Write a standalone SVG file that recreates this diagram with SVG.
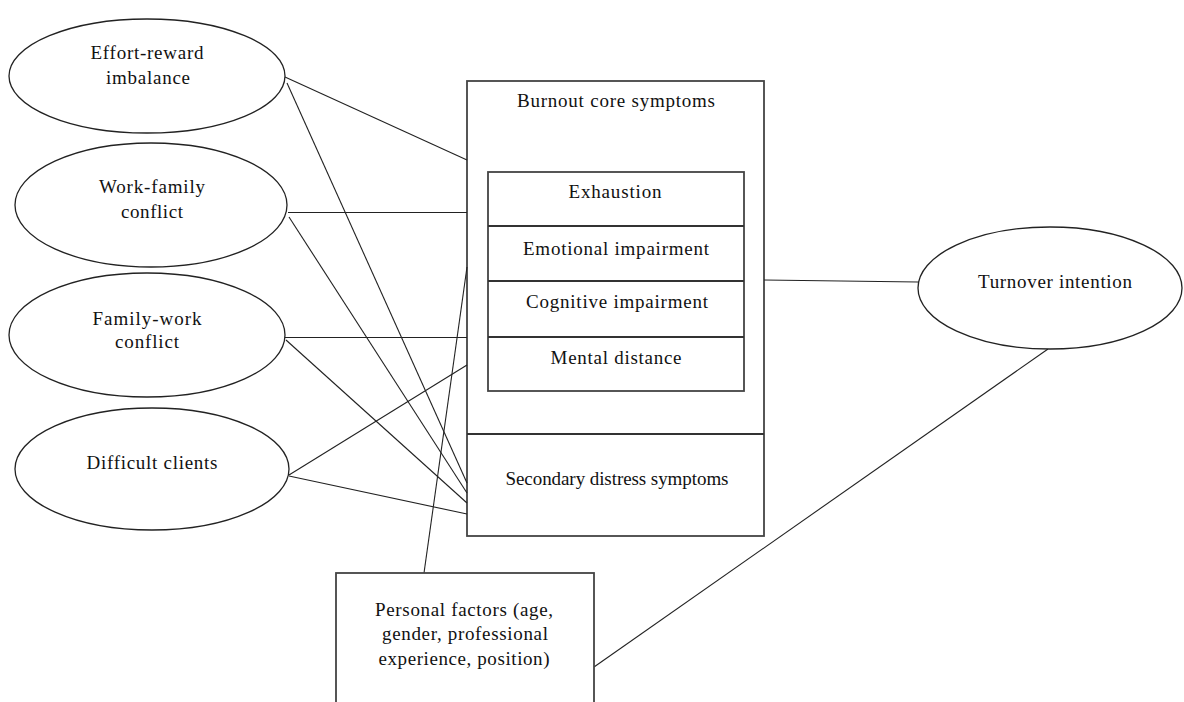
<svg xmlns="http://www.w3.org/2000/svg" width="1184" height="702" viewBox="0 0 1184 702">
<style>
.bg{fill:#ffffff}
.el{fill:#ffffff;stroke:#222;stroke-width:1.3}
.bx{fill:#ffffff;stroke:#444;stroke-width:1.8}
.dv{stroke:#333;stroke-width:1.8;fill:none}
.cn line{stroke:#222;stroke-width:1.1}
text{font-family:"Liberation Serif","Times New Roman",serif;font-size:19px;fill:#111;text-anchor:middle}
</style>
<rect class="bg" x="0" y="0" width="1184" height="702"/>
<g id="burnout">
<rect class="bx" x="467" y="81" width="297" height="455"/>
<line class="dv" x1="467" y1="434" x2="764" y2="434"/>
<text x="616" y="107" textLength="198" lengthAdjust="spacing">Burnout core symptoms</text>
<text x="617" y="485" textLength="223" lengthAdjust="spacing">Secondary distress symptoms</text>
</g>
<g id="core-inner">
<rect class="bx" x="488" y="172" width="256" height="219"/>
<line class="dv" x1="488" y1="226" x2="744" y2="226"/>
<line class="dv" x1="488" y1="281" x2="744" y2="281"/>
<line class="dv" x1="488" y1="337" x2="744" y2="337"/>
<text x="615" y="198" textLength="93" lengthAdjust="spacing">Exhaustion</text>
<text x="616" y="255" textLength="186" lengthAdjust="spacing">Emotional impairment</text>
<text x="617" y="308" textLength="182" lengthAdjust="spacing">Cognitive impairment</text>
<text x="616" y="364" textLength="131" lengthAdjust="spacing">Mental distance</text>
</g>
<g class="cn" id="connectors">
<line x1="285" y1="77" x2="467" y2="160"/>
<line x1="287" y1="83" x2="467" y2="483"/>
<line x1="288" y1="212.5" x2="467" y2="212.5"/>
<line x1="289" y1="217" x2="467" y2="493"/>
<line x1="285" y1="337.5" x2="467" y2="337.5"/>
<line x1="286" y1="340" x2="467" y2="503"/>
<line x1="289" y1="475" x2="467" y2="365"/>
<line x1="289" y1="476" x2="467" y2="514"/>
<line x1="424" y1="573" x2="467" y2="267"/>
<line x1="764" y1="280" x2="918" y2="282"/>
<line x1="594" y1="667" x2="1048" y2="349"/>
</g>
<g id="effort-reward">
<ellipse class="el" cx="147" cy="76" rx="138" ry="57"/>
<text x="147" y="59" textLength="113" lengthAdjust="spacing">Effort-reward</text>
<text x="148" y="84" textLength="84" lengthAdjust="spacing">imbalance</text>
</g>
<g id="work-family">
<ellipse class="el" cx="151" cy="205" rx="136" ry="62"/>
<text x="152" y="193" textLength="106" lengthAdjust="spacing">Work-family</text>
<text x="152" y="218" textLength="62" lengthAdjust="spacing">conflict</text>
</g>
<g id="family-work">
<ellipse class="el" cx="147" cy="335" rx="138" ry="62"/>
<text x="147" y="325" textLength="109" lengthAdjust="spacing">Family-work</text>
<text x="147" y="348" textLength="64" lengthAdjust="spacing">conflict</text>
</g>
<g id="difficult-clients">
<ellipse class="el" cx="152" cy="469" rx="137" ry="61"/>
<text x="152" y="469" textLength="131" lengthAdjust="spacing">Difficult clients</text>
</g>
<g id="turnover">
<ellipse class="el" cx="1050" cy="288" rx="132" ry="61"/>
<text x="1055" y="288" textLength="154" lengthAdjust="spacing">Turnover intention</text>
</g>
<g id="personal">
<rect class="bx" x="336" y="573" width="258" height="140"/>
<text x="464" y="616" textLength="178" lengthAdjust="spacing">Personal factors (age,</text>
<text x="465" y="640" textLength="166" lengthAdjust="spacing">gender, professional</text>
<text x="464" y="665" textLength="171" lengthAdjust="spacing">experience, position)</text>
</g>
</svg>
